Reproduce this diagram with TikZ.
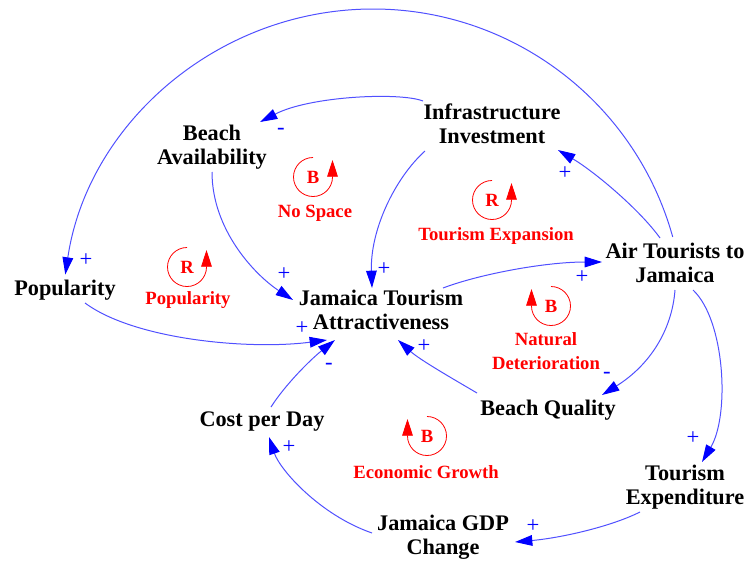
\documentclass[tikz,border=0pt]{standalone}
\usepackage{fontspec}
\setmainfont{Liberation Serif}
\usetikzlibrary{arrows.meta}
\definecolor{linkblue}{RGB}{80,80,255}
\begin{document}
\begin{tikzpicture}[x=0.75pt,y=-0.75pt,
  var/.style={font=\bfseries\fontsize{16.7}{18}\selectfont, align=center, inner sep=0pt},
  looplbl/.style={font=\bfseries\fontsize{14}{18}\selectfont, text=red, align=center, inner sep=0pt},
  looplet/.style={font=\bfseries\fontsize{14}{14}\selectfont, text=red, inner sep=0pt},
  pol/.style={font=\fontsize{17}{17}\selectfont, text=blue, inner sep=0pt},
  link/.style={draw=linkblue, line width=0.75pt, -{Triangle[length=13pt,width=8pt,color=blue]}},
  loopc/.style={draw=red, line width=0.6pt, -{Triangle[length=12.5pt,width=8pt,color=red]}}
]
\useasboundingbox (0,0) rectangle (746,561);

% variables
\node[var] (infra)   at (492,123.5) {Infrastructure\\Investment};
\node[var] (beachav) at (212,147.5) {Beach\\Availability};
\node[var] (pop)     at (65,290)    {Popularity};
\node[var] (attr)    at (381,310)   {Jamaica Tourism\\Attractiveness};
\node[var] (air)     at (675,262.5) {Air Tourists to\\Jamaica};
\node[var] (bq)      at (548,410)   {Beach Quality};
\node[var] (cost)    at (262,422)   {Cost per Day};
\node[var] (texp)    at (685,487)   {Tourism\\Expenditure};
\node[var] (gdp)     at (443,537)   {Jamaica GDP\\Change};

% loop names
\node[looplbl] (lns)  at (315,213) {No Space};
\node[looplbl] (lte)  at (496,236) {Tourism Expansion};
\node[looplbl] (lpop) at (188,300) {Popularity};
\node[looplbl] (lnd)  at (546,351) {Natural\\Deterioration};
\node[looplbl] (leg)  at (426,472) {Economic Growth};

% loop symbols
\node[looplet] (bns)  at (313,177) {B};
\node[looplet] (rte)  at (492,200) {R};
\node[looplet] (rpop) at (187,267) {R};
\node[looplet] (bnd)  at (551,306) {B};
\node[looplet] (beg)  at (427,436) {B};
\draw[loopc] ([shift={(0,-19.5)}]bns.center)  arc[start angle=-90,end angle=-360,radius=19.5] -- ++(0,-17);
\draw[loopc] ([shift={(0,-19.5)}]rte.center)  arc[start angle=-90,end angle=-360,radius=19.5] -- ++(0,-17);
\draw[loopc] ([shift={(0,-19.5)}]rpop.center) arc[start angle=-90,end angle=-360,radius=19.5] -- ++(0,-17);
\draw[loopc] ([shift={(0,-19.5)}]bnd.center)  arc[start angle=-90,end angle=180,radius=19.5] -- ++(0,-17);
\draw[loopc] ([shift={(0,-19.5)}]beg.center)  arc[start angle=-90,end angle=180,radius=19.5] -- ++(0,-17);

% connectors
\draw[link] ([shift={(-69,-22.5)}]infra.center) .. controls (400,92) and (310,96) .. ([shift={(48,-25.5)}]beachav.center);
\draw[link] ([shift={(0,24.5)}]beachav.center) .. controls (212,230) and (255,275) .. ([shift={(-88,-10)}]attr.center);
\draw[link] ([shift={(-67,27.5)}]infra.center) .. controls (395,178) and (370,230) .. ([shift={(-9,-22)}]attr.center);
\draw[link] ([shift={(-15,-24.5)}]air.center) .. controls (640,210) and (595,172) .. ([shift={(66,26.5)}]infra.center);
\draw[link] ([shift={(-2.3,-25.6)}]air.center) .. controls (633.4,95.4) and (500.3,0.5) .. (353.7,9.6)
   .. controls (207.1,18.7) and (86.8,129.3) .. ([shift={(0.3,-15.4)}]pop.center);
\draw[link] ([shift={(20,13)}]pop.center) .. controls (135,340) and (250,350) .. ([shift={(-54,30)}]attr.center);
\draw[link] ([shift={(62,-22)}]attr.center) .. controls (480,274) and (545,262) .. ([shift={(-73,-0.5)}]air.center);
\draw[link] ([shift={(0,27.5)}]air.center) .. controls (672,330) and (650,365) .. ([shift={(54,-15)}]bq.center);
\draw[link] ([shift={(-71,-17)}]bq.center) .. controls (455,380) and (420,360) .. ([shift={(17,30)}]attr.center);
\draw[link] ([shift={(18,27.5)}]air.center) .. controls (725,320) and (730,415) .. ([shift={(17,-25)}]texp.center);
\draw[link] ([shift={(-45,25)}]texp.center) .. controls (610,527) and (560,538) .. ([shift={(72,5)}]gdp.center);
\draw[link] ([shift={(-71,-4)}]gdp.center) .. controls (320,515) and (280,470) .. ([shift={(7,15)}]cost.center);
\draw[link] ([shift={(9,-15)}]cost.center) .. controls (285,385) and (310,360) .. ([shift={(-46,30)}]attr.center);

% polarities
\node[pol] (p1)  at (281,131) {-};
\node[pol] (p2)  at (284,274) {+};
\node[pol] (p3)  at (384,269) {+};
\node[pol] (p4)  at (565,173) {+};
\node[pol] (p5)  at (86,260)  {+};
\node[pol] (p6)  at (302,328) {+};
\node[pol] (p7)  at (582,277) {+};
\node[pol] (p8)  at (607,375) {-};
\node[pol] (p9)  at (424,346) {+};
\node[pol] (p10) at (693,438) {+};
\node[pol] (p11) at (533,526) {+};
\node[pol] (p12) at (289,447) {+};
\node[pol] (p13) at (329,366) {-};
\end{tikzpicture}
\end{document}
